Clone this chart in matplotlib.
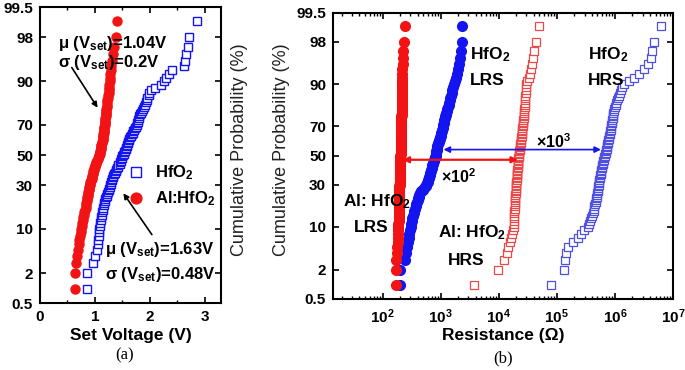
import numpy as np
import matplotlib
matplotlib.use('Agg')
import matplotlib.pyplot as plt
from matplotlib.ticker import MultipleLocator, LogLocator, NullFormatter, NullLocator
from statistics import NormalDist

# set voltage (V), sorted samples
vset_al_hfo2 = [
    0.64, 0.64, 0.66, 0.68, 0.70, 0.71, 0.72, 0.73, 0.74, 0.75,
    0.76, 0.77, 0.78, 0.79, 0.80, 0.81, 0.82, 0.83, 0.83, 0.84,
    0.85, 0.86, 0.86, 0.87, 0.88, 0.88, 0.89, 0.90, 0.90, 0.91,
    0.92, 0.92, 0.93, 0.94, 0.94, 0.95, 0.96, 0.96, 0.97, 0.98,
    0.99, 1.00, 1.01, 1.02, 1.03, 1.04, 1.05, 1.06, 1.07, 1.08,
    1.09, 1.10, 1.10, 1.11, 1.11, 1.12, 1.12, 1.13, 1.13, 1.14,
    1.14, 1.15, 1.15, 1.15, 1.16, 1.16, 1.17, 1.17, 1.17, 1.18,
    1.18, 1.19, 1.19, 1.19, 1.20, 1.20, 1.21, 1.21, 1.21, 1.22,
    1.22, 1.23, 1.23, 1.24, 1.24, 1.25, 1.25, 1.26, 1.26, 1.27,
    1.28, 1.28, 1.29, 1.30, 1.31, 1.33, 1.35, 1.39, 1.41]
vset_hfo2 = [
    0.85, 0.85, 0.96, 1.01, 1.04, 1.05, 1.06, 1.07, 1.07, 1.08,
    1.09, 1.10, 1.11, 1.12, 1.13, 1.13, 1.14, 1.15, 1.16, 1.17,
    1.18, 1.19, 1.21, 1.22, 1.23, 1.24, 1.25, 1.26, 1.27, 1.28,
    1.29, 1.30, 1.31, 1.32, 1.33, 1.34, 1.35, 1.36, 1.38, 1.39,
    1.40, 1.42, 1.43, 1.45, 1.46, 1.47, 1.48, 1.49, 1.50, 1.52,
    1.53, 1.54, 1.55, 1.56, 1.57, 1.58, 1.59, 1.60, 1.61, 1.62,
    1.63, 1.65, 1.66, 1.68, 1.69, 1.70, 1.72, 1.73, 1.75, 1.76,
    1.77, 1.78, 1.79, 1.80, 1.81, 1.83, 1.84, 1.86, 1.88, 1.90,
    1.91, 1.93, 1.95, 1.96, 1.98, 1.99, 2.02, 2.10, 2.20, 2.26,
    2.30, 2.35, 2.41, 2.62, 2.64, 2.67, 2.70, 2.71, 2.87]

# resistance (ohm), sorted samples
lrs_al_hfo2 = [
    168, 169, 173, 177, 180, 182, 183, 184, 185, 186,
    187, 188, 188, 189, 189, 190, 190, 191, 191, 192,
    192, 193, 193, 193, 194, 194, 195, 195, 195, 196,
    196, 196, 197, 197, 197, 198, 198, 198, 199, 199,
    199, 200, 200, 200, 201, 201, 202, 202, 203, 203,
    204, 204, 204, 205, 205, 205, 206, 206, 206, 207,
    207, 207, 208, 208, 208, 209, 209, 209, 210, 210,
    210, 210, 211, 211, 211, 211, 212, 212, 212, 212,
    213, 213, 213, 214, 214, 214, 215, 215, 216, 216,
    217, 218, 219, 220, 221, 223, 226, 232, 240]
lrs_hfo2 = [
    196, 197, 245, 252, 259, 270, 281, 290, 297, 304,
    311, 318, 326, 334, 342, 350, 360, 370, 380, 390,
    400, 409, 417, 430, 445, 465, 490, 520, 551, 570,
    585, 598, 610, 622, 634, 645, 655, 664, 672, 684,
    697, 710, 722, 735, 748, 761, 774, 788, 802, 817,
    826, 835, 844, 853, 862, 871, 879, 886, 900, 920,
    940, 960, 980, 1000, 1015, 1030, 1045, 1062, 1080, 1095,
    1110, 1125, 1140, 1155, 1175, 1195, 1220, 1250, 1280, 1310,
    1340, 1370, 1400, 1430, 1460, 1500, 1540, 1580, 1620, 1670,
    1740, 1820, 1900, 1980, 2060, 2150, 2250, 2310, 2350]
hrs_al_hfo2 = [
    3700, 9600, 12300, 13800, 14600, 15400, 16300, 17000, 17600, 18000,
    18100, 18200, 18300, 18400, 18500, 18600, 18700, 18800, 18900, 19000,
    19100, 19200, 19300, 19400, 19500, 19600, 19700, 19800, 19900, 20000,
    20100, 20200, 20300, 20400, 20500, 20600, 20700, 20800, 20900, 21000,
    21100, 21200, 21300, 21400, 21500, 21600, 21700, 21800, 21900, 22000,
    22200, 22400, 22600, 22800, 23000, 23200, 23400, 23600, 23800, 24000,
    24200, 24400, 24600, 24800, 25000, 25200, 25300, 25400, 25500, 25700,
    25900, 26100, 26300, 26500, 26700, 26900, 27100, 27300, 27500, 27700,
    27900, 28100, 28300, 28500, 28700, 28800, 28900, 29000, 29100, 29200,
    31000, 32800, 34200, 35700, 37500, 38600, 40000, 43500, 49000]
hrs_hfo2 = [
    79000, 133000, 138000, 144000, 156000, 190000, 232000, 260000, 293000, 343000,
    358000, 372000, 390000, 405000, 420000, 428000, 436000, 445000, 455000, 465000,
    472000, 479000, 486000, 493000, 500000, 505000, 510000, 515000, 520000, 525000,
    530000, 536000, 542000, 548000, 554000, 560000, 566000, 571000, 575000, 582000,
    590000, 598000, 606000, 614000, 622000, 630000, 640000, 650000, 660000, 673000,
    682000, 691000, 700000, 709000, 718000, 727000, 736000, 745000, 752000, 760000,
    770000, 780000, 790000, 800000, 810000, 820000, 830000, 840000, 850000, 860000,
    870000, 880000, 890000, 900000, 910000, 920000, 930000, 945000, 957000, 970000,
    1000000, 1030000, 1060000, 1090000, 1130000, 1170000, 1210000, 1270000, 1350000, 1430000,
    1750000, 2130000, 2600000, 3160000, 3700000, 4170000, 4400000, 4700000, 6200000]

prob_ticks = [0.5, 2, 10, 30, 50, 70, 90, 98, 99.5]
prob_labels = ['0.5', '2', '10', '30', '50', '70', '90', '98', '99.5']
res_ticks = [1e2, 1e3, 1e4, 1e5, 1e6, 1e7]
res_labels = ['10$^{2}$', '10$^{3}$', '10$^{4}$', '10$^{5}$', '10$^{6}$', '10$^{7}$']

RED = '#f21414'
BLUE = '#1414f0'
RED_OPEN = '#e84a4a'
BLUE_OPEN = '#4f4fe0'

_nd = NormalDist()


def probit(p):
    p = np.clip(np.asarray(p, dtype=float) / 100.0, 1e-9, 1 - 1e-9)
    return np.vectorize(_nd.inv_cdf, otypes=[float])(p)


def inv_probit(z):
    z = np.asarray(z, dtype=float)
    return np.vectorize(_nd.cdf, otypes=[float])(z) * 100.0


def cumulative_percent(values):
    # rank based plotting position of a sorted sample
    n = len(values)
    return np.arange(1, n + 1) / (n + 1) * 100.0


def setup_prob_axis(ax):
    ax.set_yscale('function', functions=(probit, inv_probit))
    ax.set_ylim(0.5, 99.5)
    ax.set_yticks(prob_ticks)
    ax.set_yticklabels(prob_labels)
    ax.yaxis.set_minor_locator(NullLocator())


plt.rcParams.update({
    'font.family': 'Liberation Sans',
    'font.weight': 'bold',
    'font.size': 11,
    'axes.labelweight': 'bold',
    'mathtext.fontset': 'custom',
    'mathtext.rm': 'Liberation Sans:bold',
    'mathtext.bf': 'Liberation Sans:bold',
    'mathtext.it': 'Liberation Sans:bold',
    'mathtext.default': 'rm',
    'axes.linewidth': 1.5,
    'xtick.direction': 'in',
    'ytick.direction': 'in',
    'xtick.top': True,
    'ytick.right': True,
    'xtick.major.size': 4,
    'ytick.major.size': 4,
    'xtick.minor.size': 2.5,
    'xtick.major.width': 1.2,
    'ytick.major.width': 1.2,
    'xtick.minor.width': 1.0,
})

fig = plt.figure(figsize=(6.85, 3.7), dpi=100)

# ---- panel (a): set voltage
ax1 = fig.add_axes([0.0584, 0.181, 0.2642, 0.80])
h_sq, = ax1.plot(vset_hfo2, cumulative_percent(vset_hfo2), 's', ms=5.5, mfc='white',
                 mec=BLUE, mew=1.0, linestyle='none')
h_ci, = ax1.plot(vset_al_hfo2, cumulative_percent(vset_al_hfo2), 'o', ms=6.5, color=RED,
                 linestyle='none')
setup_prob_axis(ax1)
ax1.set_xlim(0, 3.3)
ax1.xaxis.set_major_locator(MultipleLocator(1))
ax1.xaxis.set_minor_locator(MultipleLocator(0.5))
ax1.tick_params(axis='both', labelsize=11, pad=5)
ax1.set_xlabel('Set Voltage (V)', fontsize=12.5, labelpad=3)

ax1.text(0.33, 97.4, 'μ (V$_{set}$)=1.04V', fontsize=12, va='center')
ax1.text(0.33, 94.6, 'σ (V$_{set}$)=0.2V', fontsize=12, va='center')
ax1.annotate('', xy=(1.05, 79.5), xytext=(0.58, 93.6),
             arrowprops=dict(arrowstyle='-|>', color='black', lw=1.2, mutation_scale=8,
                             shrinkA=0, shrinkB=0))
ax1.text(1.19, 5.0, 'μ (V$_{set}$)=1.63V', fontsize=12, va='center')
ax1.text(1.19, 1.87, 'σ (V$_{set}$)=0.48V', fontsize=12, va='center')
ax1.annotate('', xy=(1.52, 25.3), xytext=(2.04, 8.3),
             arrowprops=dict(arrowstyle='-|>', color='black', lw=1.2, mutation_scale=8,
                             shrinkA=0, shrinkB=0))
ax1.legend([h_sq, h_ci], ['HfO$_2$', 'Al:HfO$_2$'], loc='upper left',
           bbox_to_anchor=(0.44, 0.50), frameon=False, fontsize=12, numpoints=1,
           handlelength=1.0, handletextpad=0.6, labelspacing=0.45, borderpad=0,
           markerscale=1.2)

# ---- panel (b): resistance
ax2 = fig.add_axes([0.4861, 0.193, 0.4964, 0.773])
ax2.plot(hrs_hfo2, cumulative_percent(hrs_hfo2), 's', ms=5.5, mfc='white',
         mec=BLUE_OPEN, mew=0.9, linestyle='none')
ax2.plot(hrs_al_hfo2, cumulative_percent(hrs_al_hfo2), 's', ms=5.5, mfc='white',
         mec=RED_OPEN, mew=0.9, linestyle='none')
ax2.plot(lrs_hfo2, cumulative_percent(lrs_hfo2), 'o', ms=7, color=BLUE, linestyle='none')
ax2.plot(lrs_al_hfo2, cumulative_percent(lrs_al_hfo2), 'o', ms=7, color=RED, linestyle='none')
ax2.set_xscale('log')
ax2.set_xlim(14, 1e7)
setup_prob_axis(ax2)
ax2.set_xticks(res_ticks)
ax2.set_xticklabels(res_labels)
ax2.xaxis.set_minor_locator(LogLocator(base=10, subs=np.arange(2, 10)))
ax2.xaxis.set_minor_formatter(NullFormatter())
ax2.tick_params(axis='both', labelsize=11, pad=5)
ax2.tick_params(axis='x', pad=6)
ax2.set_xlabel('Resistance (Ω)', fontsize=12.5, labelpad=2)

ax2.annotate('', xy=(21400, 47), xytext=(221, 47),
             arrowprops=dict(arrowstyle='<|-|>', color=RED, lw=1.6, mutation_scale=9,
                             shrinkA=0, shrinkB=0))
ax2.annotate('', xy=(575000, 54.3), xytext=(1120, 54.3),
             arrowprops=dict(arrowstyle='<|-|>', color=BLUE, lw=1.2, mutation_scale=9,
                             shrinkA=0, shrinkB=0))
ax2.text(1000, 35.3, '×10$^{2}$', fontsize=11.5, va='center')
ax2.text(43700, 60, '×10$^{3}$', fontsize=11.5, va='center')
ax2.text(3160, 96.5, 'HfO$_2$', fontsize=12.5, va='center')
ax2.text(3160, 91.1, 'LRS', fontsize=12.5, va='center')
ax2.text(340000, 96.5, 'HfO$_2$', fontsize=12.5, va='center')
ax2.text(340000, 91.1, 'HRS', fontsize=12.5, va='center')
ax2.text(20.5, 20.4, 'Al: HfO$_2$', fontsize=12.5, va='center')
ax2.text(31.6, 9.8, 'LRS', fontsize=12.5, va='center')
ax2.text(890, 8.3, 'Al: HfO$_2$', fontsize=12.5, va='center')
ax2.text(1320, 2.9, 'HRS', fontsize=12.5, va='center')

# y labels and panel letters
for xpix in (240, 282):
    fig.text(xpix / 685, 1 - 150 / 370, 'Cumulative Probability (%)', rotation=90,
             ha='center', va='center', fontsize=13, fontweight='normal', color='#222222')
fig.text(125 / 685, 1 - 355 / 370, '(a)', family='Liberation Serif', fontweight='normal',
         fontsize=12, ha='center', va='center')
fig.text(503 / 685, 1 - 358 / 370, '(b)', family='Liberation Serif', fontweight='normal',
         fontsize=12, ha='center', va='center')

fig.savefig('out.png', dpi=100)
